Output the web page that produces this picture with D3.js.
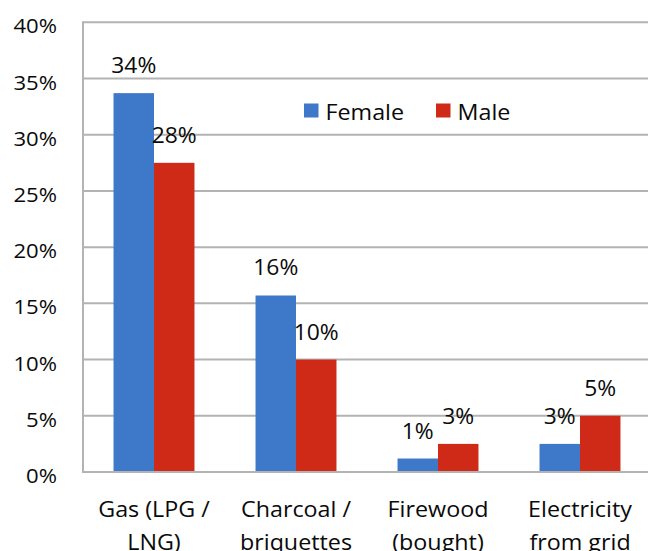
<!DOCTYPE html>
<html>
<head>
<meta charset="utf-8">
<script src="https://cdn.jsdelivr.net/npm/d3@7"></script>
<style>
  html, body { margin: 0; padding: 0; background: #fff; }
  svg { display: block; font-family: "Open Sans", sans-serif; }
</style>
</head>
<body>
<svg id="chart" width="648" height="551"></svg>
<script>
// Share of households by main cooking fuel, split by sex of household head
const categories = [
  ["Gas (LPG /", "LNG)"],
  ["Charcoal /", "briquettes"],
  ["Firewood", "(bought)"],
  ["Electricity", "from grid"]
];
const seriesNames = ["Female", "Male"];
const female = [33.7, 15.7, 1.2, 2.5];
const male = [27.5, 10.0, 2.5, 5.0];
const yTicks = [0, 5, 10, 15, 20, 25, 30, 35, 40];

const colors = { Female: "#3e78c9", Male: "#cf2a17" };
const gridColor = "#b3b3b3";
const textColor = "#0a0a0a";

const svg = d3.select("#chart");
const plotLeft = 83, plotRight = 651, plotTop = 22.3, plotBottom = 472;

// widen glyphs horizontally by factor k (text is drawn slightly expanded)
function widen(sel, k) {
  sel.each(function() {
    const w = this.getComputedTextLength();
    this.setAttribute("textLength", (w * k).toFixed(2));
    this.setAttribute("lengthAdjust", "spacingAndGlyphs");
  });
}

const catKeys = categories.map(c => c.join(" "));
const x = d3.scaleBand().domain(catKeys).range([plotLeft, plotRight])
  .paddingInner(0.43).paddingOuter(0.215);
const xs = d3.scaleBand().domain(seriesNames).range([0, x.bandwidth()]);
const y = d3.scaleLinear().domain([0, 40]).range([plotBottom, plotTop]);

// horizontal gridlines
svg.append("g").selectAll("line").data(yTicks.filter(t => t > 0)).join("line")
  .attr("x1", plotLeft).attr("x2", 648)
  .attr("y1", d => y(d)).attr("y2", d => y(d))
  .attr("stroke", gridColor).attr("stroke-width", 2);

// y tick labels
svg.append("g").selectAll("text").data(yTicks).join("text")
  .attr("x", 57).attr("y", d => y(d) + 11)
  .attr("text-anchor", "end")
  .attr("font-size", 20.3).attr("fill", textColor)
  .text(d => d + "%")
  .call(widen, 1.09);

// bars
const rows = catKeys.map((k, i) => ({ key: k, values: [
  { s: "Female", v: female[i] }, { s: "Male", v: male[i] }
]}));

const groups = svg.append("g").selectAll("g").data(rows).join("g")
  .attr("transform", d => `translate(${x(d.key)},0)`);

groups.selectAll("rect").data(d => d.values).join("rect")
  .attr("x", d => xs(d.s))
  .attr("width", xs.bandwidth())
  .attr("y", d => y(d.v))
  .attr("height", d => y(0) - y(d.v))
  .attr("fill", d => colors[d.s]);

// value labels above each bar
groups.selectAll("text").data(d => d.values).join("text")
  .attr("x", d => xs(d.s) + xs.bandwidth() / 2)
  .attr("y", d => y(d.v) - 20)
  .attr("text-anchor", "middle")
  .attr("font-size", 22.4).attr("fill", textColor)
  .text(d => Math.round(d.v) + "%")
  .call(widen, 1.02);

// axis lines
svg.append("line").attr("x1", plotLeft).attr("x2", plotLeft)
  .attr("y1", plotTop - 1).attr("y2", plotBottom + 1)
  .attr("stroke", gridColor).attr("stroke-width", 2);
svg.append("line").attr("x1", plotLeft - 1).attr("x2", 648)
  .attr("y1", plotBottom).attr("y2", plotBottom)
  .attr("stroke", gridColor).attr("stroke-width", 2);

// category labels, two lines each
svg.append("g").selectAll("text").data(categories).join("text")
  .attr("text-anchor", "middle")
  .attr("font-size", 22.4).attr("fill", textColor)
  .each(function(lines) {
    const cx = x(lines.join(" ")) + x.bandwidth() / 2;
    d3.select(this).selectAll("tspan").data(lines).join("tspan")
      .attr("x", cx)
      .attr("y", (d, i) => 516.5 + i * 33.5)
      .text(d => d)
      .call(widen, 1.04);
  });

// legend
const legend = svg.append("g");
const legendX = [304, 436];
seriesNames.forEach((s, i) => {
  legend.append("rect").attr("x", legendX[i]).attr("y", 103.5)
    .attr("width", 14.5).attr("height", 14).attr("fill", colors[s]);
  legend.append("text").attr("x", legendX[i] + 21.5).attr("y", 120)
    .attr("font-size", 22.4).attr("fill", textColor).text(s)
    .call(widen, 1.04);
});
</script>
</body>
</html>
